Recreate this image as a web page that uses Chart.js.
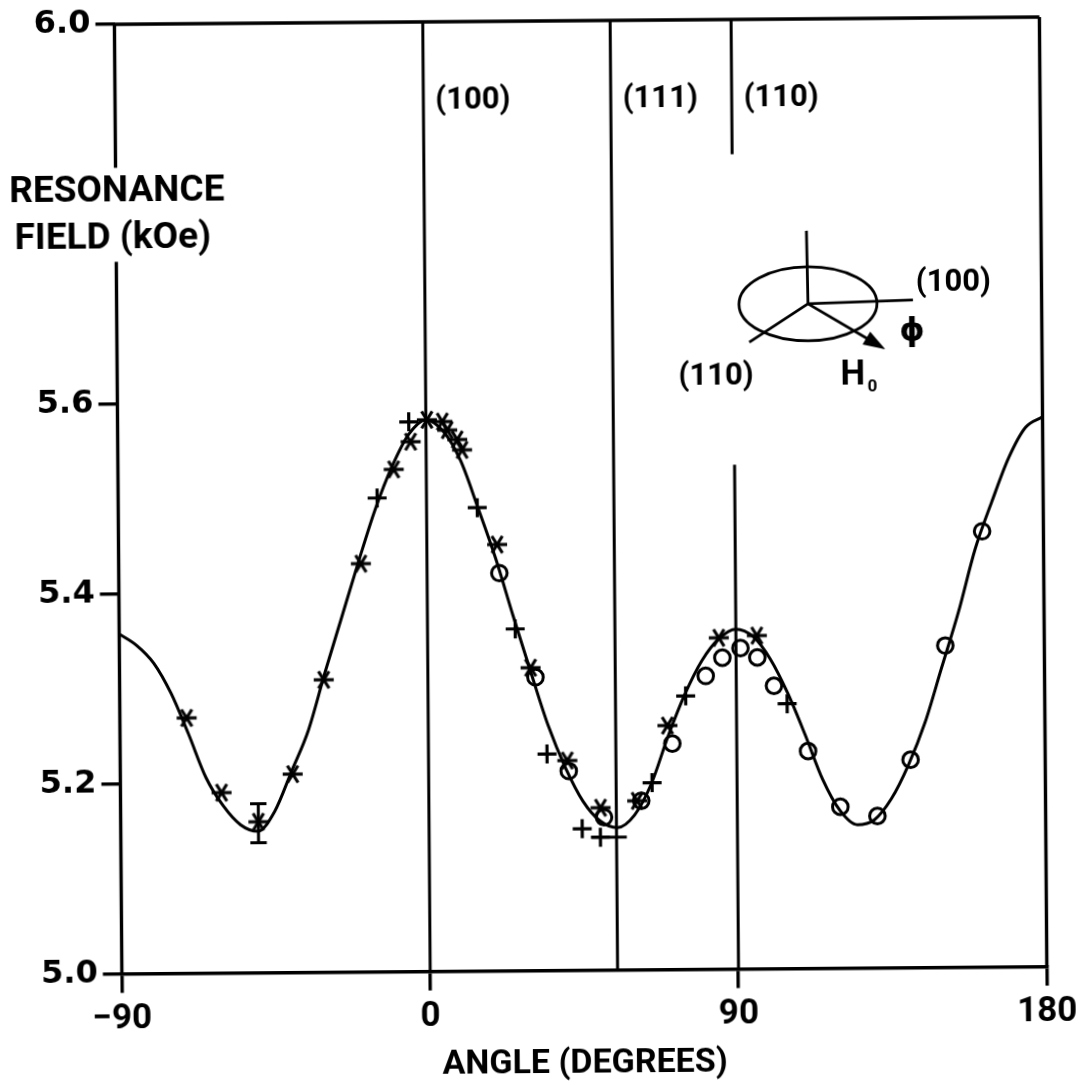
<!DOCTYPE html>
<html>
<head>
<meta charset="utf-8">
<title>Resonance field vs angle</title>
<script src="https://cdn.jsdelivr.net/npm/chart.js@4.4.1/dist/chart.umd.min.js"></script>
<style>
  html, body { margin: 0; padding: 0; background: #fff; }
  /* the scanned figure is slightly skewed */
  #chart { display: block; transform: rotate(-0.45deg); }
</style>
</head>
<body>
<canvas id="chart" width="1081" height="1085"></canvas>
<script>
// =====================================
// DATA
// =====================================
const curveAngle = [-90, -85, -80, -75, -70, -65, -60, -55, -50, -45, -40, -35, -30, -25, -20, -15, -10, -5,
                    0, 5, 10, 15, 20, 25, 30, 35, 40, 45, 50, 55, 60, 65, 70, 75, 80, 85,
                    90, 95, 100, 105, 110, 115, 120, 125, 130, 135, 140, 145, 150, 155, 160, 165, 170, 175, 180];
const curveField = [5.358, 5.346, 5.327, 5.295, 5.252, 5.206, 5.176, 5.156, 5.149, 5.170, 5.212, 5.255, 5.316, 5.374, 5.432, 5.487, 5.532, 5.566,
                    5.581, 5.569, 5.538, 5.488, 5.435, 5.374, 5.315, 5.258, 5.213, 5.178, 5.157, 5.150, 5.163, 5.196, 5.246, 5.290, 5.325, 5.348,
                    5.358, 5.350, 5.326, 5.290, 5.246, 5.199, 5.166, 5.151, 5.156, 5.178, 5.213, 5.258, 5.316, 5.374, 5.440, 5.490, 5.536, 5.568, 5.579];

// asterisk points
const starAngle = [-70.5, -60.5, -49.8, -39.7, -30.4, -19.3, -9.5, -4.5, 0.3, 4.8, 6.2, 9.1, 10.5, 20.5, 30.0, 40.5, 50.1, 60.8, 69.8, 85.0, 96.1];
const starField = [5.269, 5.190, 5.159, 5.209, 5.308, 5.430, 5.529, 5.558, 5.581, 5.579, 5.570, 5.560, 5.549, 5.449, 5.319, 5.221, 5.171, 5.178, 5.257, 5.349, 5.351];

// plus points
const plusAngle = [-14.4, -5.0, 14.8, 25.6, 34.6, 44.7, 50.0, 65.2, 75.2, 104.8];
const plusField = [5.499, 5.579, 5.488, 5.360, 5.228, 5.149, 5.140, 5.197, 5.288, 5.279];

// open circles
const circAngle = [21.1, 31.4, 40.9, 51.1, 62.0, 71.2, 81.1, 86.0, 91.3, 96.2, 101.0, 110.8, 120.1, 130.9, 140.7, 151.1, 162.1];
const circField = [5.419, 5.309, 5.210, 5.161, 5.178, 5.238, 5.309, 5.328, 5.338, 5.328, 5.298, 5.229, 5.170, 5.160, 5.219, 5.339, 5.459];

// vertical error bar on one asterisk
const errAngle = [-49.8];
const errLow = [5.137];
const errHigh = [5.178];

// horizontal bar under the (111) minimum
const hbarField = [5.140];
const hbarFrom = [47.5];
const hbarTo = [57.7];

// axes
const xTicks = [-90, 0, 90, 180];
const yTicks = [5.0, 5.2, 5.4, 5.6, 6.0];

// crystal direction lines and the frame sides
const refAngles = [-90, 0, 54.7, 90, 180];
const refLabels = [null, "(100)", "(111)", "(110)", null];
const refSegments = [
    [[5.0, 5.750], [5.849, 6.0]],
    [[5.0, 6.0]],
    [[5.0, 6.0]],
    [[5.0, 5.531], [5.858, 6.0]],
    [[5.0, 6.0]]
];
const refLabelField = 5.908;

// inset anchor (data coords)
const insetAngle = 111.8;
const insetField = 5.700;

// =====================================
// HELPERS
// =====================================
function makeAsterisk(r, w) {
    const c = document.createElement("canvas");
    const s = Math.ceil(2 * r + w + 2);
    c.width = s; c.height = s;
    const g = c.getContext("2d");
    g.strokeStyle = "#000";
    g.lineWidth = w;
    g.lineCap = "butt";
    g.translate(s / 2, s / 2);
    [0, 58, 122].forEach(deg => {
        const a = deg * Math.PI / 180;
        g.beginPath();
        g.moveTo(-r * Math.cos(a), -r * Math.sin(a));
        g.lineTo(r * Math.cos(a), r * Math.sin(a));
        g.stroke();
    });
    return c;
}

function pts(xs, ys) {
    return xs.map((v, i) => ({ x: v, y: ys[i] }));
}

function lineSet(data, width) {
    return {
        data: data,
        showLine: true,
        borderColor: "#000",
        borderWidth: width,
        pointRadius: 0,
        spanGaps: false,
        clip: false
    };
}

// =====================================
// DATASETS
// =====================================
const datasets = [];

// top side of the frame
datasets.push(lineSet([{ x: -90, y: 6.0 }, { x: 180, y: 6.0 }], 3.4));

// vertical lines
refAngles.forEach((a, i) => {
    const data = [];
    refSegments[i].forEach((seg, k) => {
        if (k > 0) data.push({ x: a, y: null });
        data.push({ x: a, y: seg[0] }, { x: a, y: seg[1] });
    });
    const edge = (a === -90 || a === 180);
    datasets.push(lineSet(data, edge ? 3.4 : 3.0));
});

// theory curve
datasets.push({
    data: pts(curveAngle, curveField),
    showLine: true,
    borderColor: "#000",
    borderWidth: 3,
    pointRadius: 0,
    cubicInterpolationMode: "monotone"
});

// error bars
errAngle.forEach((a, i) => {
    const cap = 2.4;
    datasets.push(lineSet([
        { x: a, y: errLow[i] }, { x: a, y: errHigh[i] }, { x: a, y: null },
        { x: a - cap, y: errHigh[i] }, { x: a + cap, y: errHigh[i] }, { x: a, y: null },
        { x: a - cap, y: errLow[i] }, { x: a + cap, y: errLow[i] }
    ], 3));
});
hbarField.forEach((f, i) => {
    datasets.push(lineSet([{ x: hbarFrom[i], y: f }, { x: hbarTo[i], y: f }], 3));
});

// markers
datasets.push({
    data: pts(starAngle, starField),
    pointStyle: makeAsterisk(10, 3.2),
    pointRadius: 11
});
datasets.push({
    data: pts(plusAngle, plusField),
    pointStyle: "cross",
    pointRadius: 9.5,
    borderColor: "#000",
    borderWidth: 3.2
});
datasets.push({
    data: pts(circAngle, circField),
    pointStyle: "circle",
    pointRadius: 7.8,
    borderColor: "#000",
    backgroundColor: "rgba(0,0,0,0)",
    borderWidth: 3
});

// =====================================
// ANNOTATIONS (labels, y title, inset)
// =====================================
const annotations = {
    id: "annotations",
    afterDatasetsDraw(chart) {
        const { ctx, scales: { x, y } } = chart;
        ctx.save();
        ctx.fillStyle = "#000";
        ctx.strokeStyle = "#000";
        ctx.textBaseline = "alphabetic";
        ctx.textAlign = "left";

        // direction labels
        ctx.font = "bold 31px Roboto";
        refAngles.forEach((a, i) => {
            if (!refLabels[i]) return;
            ctx.fillText(refLabels[i], x.getPixelForValue(a) + 12, y.getPixelForValue(refLabelField));
        });

        // y title
        ctx.font = "bold 37px Roboto";
        ctx.fillText("RESONANCE", 12, 198);
        ctx.fillText("FIELD (kOe)", 17, 245);

        // inset sketch
        const cx = x.getPixelForValue(insetAngle);
        const cy = y.getPixelForValue(insetField);
        ctx.lineWidth = 2.8;
        ctx.beginPath();
        ctx.ellipse(cx, cy, 69, 37, 0, 0, 2 * Math.PI);
        ctx.stroke();
        ctx.beginPath();
        ctx.moveTo(cx - 1, cy - 73); ctx.lineTo(cx, cy);
        ctx.lineTo(cx + 105, cy - 3);
        ctx.moveTo(cx, cy); ctx.lineTo(cx - 59, cy + 38);
        ctx.stroke();
        // H0 arrow
        const tx = cx + 77, ty = cy + 46;
        const ang = Math.atan2(46, 77);
        ctx.beginPath();
        ctx.moveTo(cx, cy);
        ctx.lineTo(tx - 14 * Math.cos(ang), ty - 14 * Math.sin(ang));
        ctx.stroke();
        ctx.beginPath();
        ctx.moveTo(tx, ty);
        ctx.lineTo(tx - 22 * Math.cos(ang) + 7.5 * Math.sin(ang), ty - 22 * Math.sin(ang) - 7.5 * Math.cos(ang));
        ctx.lineTo(tx - 22 * Math.cos(ang) - 7.5 * Math.sin(ang), ty - 22 * Math.sin(ang) + 7.5 * Math.cos(ang));
        ctx.closePath();
        ctx.fill();

        ctx.font = "bold 31px Roboto";
        ctx.fillText("(100)", cx + 108, cy - 12);
        ctx.fillText("(110)", cx - 130, cy + 80);
        ctx.font = "bold 35px Roboto";
        ctx.fillText("H", cx + 32, cy + 81);
        ctx.font = "bold 17px Roboto";
        ctx.fillText("0", cx + 59, cy + 88);
        ctx.font = "bold 32px 'DejaVu Sans'";
        ctx.textAlign = "center";
        ctx.fillText("\u03D5", cx + 104, cy + 37);

        ctx.restore();
    }
};

// =====================================
// CHART
// =====================================
new Chart(document.getElementById("chart"), {
    type: "scatter",
    data: { datasets: datasets },
    options: {
        responsive: false,
        animation: false,
        events: [],
        layout: { padding: { left: 0, top: 18.3, right: 37.5, bottom: 0 } },
        plugins: {
            legend: { display: false },
            tooltip: { enabled: false }
        },
        scales: {
            x: {
                type: "linear",
                min: -90,
                max: 180,
                afterBuildTicks: s => { s.ticks = xTicks.map(v => ({ value: v })); },
                afterFit: s => { s.height = 1085 - 970.6; },
                ticks: {
                    autoSkip: false,
                    maxRotation: 0,
                    padding: 6,
                    color: "#000",
                    font: { family: "Roboto", size: 35, weight: "bold", lineHeight: 1.2 },
                    callback: v => v < 0 ? "\u2212" + Math.abs(v) : String(v)
                },
                grid: {
                    drawOnChartArea: false,
                    drawTicks: true,
                    tickLength: 19,
                    color: "#000",
                    lineWidth: 3.4
                },
                border: { display: true, color: "#000", width: 3.4 },
                title: {
                    display: true,
                    text: "ANGLE (DEGREES)",
                    color: "#000",
                    font: { family: "Roboto", size: 34, weight: "bold", lineHeight: 1.2 },
                    padding: { top: 0, bottom: 0 }
                }
            },
            y: {
                type: "linear",
                min: 5.0,
                max: 6.0,
                afterBuildTicks: s => { s.ticks = yTicks.map(v => ({ value: v })); },
                afterFit: s => { s.width = 118.5; },
                ticks: {
                    padding: 5,
                    color: "#000",
                    font: { family: "DejaVu Sans", size: 32, weight: "bold", lineHeight: 1.0 },
                    callback: v => Number(v).toFixed(1)
                },
                grid: {
                    drawOnChartArea: false,
                    drawTicks: true,
                    tickLength: 19,
                    color: "#000",
                    lineWidth: 3.4
                },
                border: { display: false }
            }
        }
    },
    plugins: [annotations]
});
</script>
</body>
</html>
